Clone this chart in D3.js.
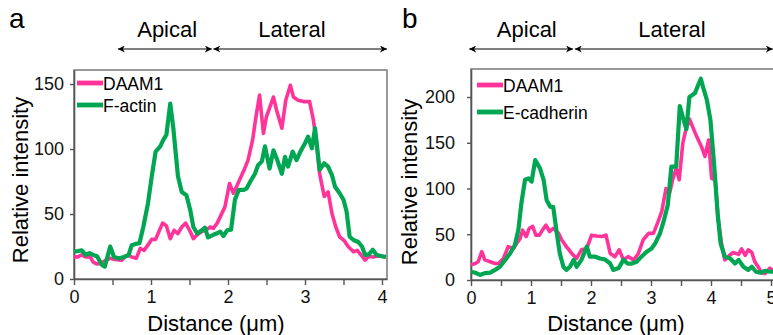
<!DOCTYPE html>
<html>
<head>
<meta charset="utf-8">
<script src="https://cdn.jsdelivr.net/npm/d3@7"></script>
<style>
  html, body { margin: 0; padding: 0; background: #fff; }
  svg { display: block; font-family: "Liberation Sans", Arial, sans-serif; }
</style>
</head>
<body>
<svg id="chart" width="773" height="335"></svg>
<script>
// ---------- DATA ----------
// Panel a: [distance (µm), relative intensity]
const daam1A = [[0,17],[0.05,17],[0.10,18.5],[0.15,17],[0.21,17],[0.25,13],[0.30,11.5],[0.34,12],[0.42,14.5],[0.47,16],[0.53,15],[0.62,14.5],[0.66,17],[0.71,18.5],[0.75,17],[0.81,16],[0.86,23.5],[0.91,22],[0.97,27],[1.01,30.5],[1.06,30.5],[1.11,37.5],[1.15,43],[1.20,41],[1.25,31],[1.30,37.5],[1.35,35],[1.40,40],[1.45,43],[1.51,36.5],[1.55,31],[1.60,34],[1.66,36.5],[1.71,37.5],[1.77,40],[1.81,39],[1.86,43],[1.92,50.5],[1.96,55.5],[2.02,73.5],[2.07,66],[2.11,71],[2.16,77.5],[2.21,84],[2.26,91.5],[2.32,107],[2.36,123.5],[2.41,141.5],[2.46,112],[2.50,125],[2.59,140],[2.63,130],[2.70,116],[2.75,137.5],[2.81,149],[2.85,140],[2.91,137.5],[2.98,136.5],[3.06,136.5],[3.11,122],[3.15,104.5],[3.19,81],[3.25,63.5],[3.30,67],[3.35,50.5],[3.40,40],[3.45,32.5],[3.51,29.5],[3.56,25],[3.63,21],[3.68,22],[3.74,17.5],[3.78,14.5],[3.83,17.5],[3.88,17],[3.93,17.5],[4.00,17.5],[4.05,17]];
const factinA = [[0,21],[0.10,22],[0.15,18.5],[0.20,20],[0.25,18.5],[0.30,17.5],[0.36,11],[0.40,9.5],[0.47,25],[0.52,17],[0.58,16],[0.62,16.5],[0.65,17],[0.71,18.5],[0.75,26],[0.80,27],[0.85,27.5],[0.90,40],[0.96,58],[1.01,79],[1.06,98],[1.12,102],[1.16,107],[1.20,111],[1.25,135],[1.29,116],[1.35,79],[1.40,67],[1.46,64.5],[1.51,53],[1.55,40],[1.60,35],[1.66,37.5],[1.70,39.5],[1.74,32],[1.81,34],[1.85,35],[1.90,36.5],[1.94,33],[1.99,37.5],[2.04,38],[2.09,61],[2.14,68.5],[2.20,68.5],[2.24,69.5],[2.29,75],[2.35,81],[2.39,87.5],[2.44,90.5],[2.48,102],[2.54,85],[2.59,99],[2.64,91.5],[2.70,81],[2.74,94],[2.78,86.5],[2.84,98],[2.89,91.5],[2.94,98],[3.00,104.5],[3.04,109.5],[3.09,100.5],[3.13,116],[3.19,84],[3.25,89],[3.30,86.5],[3.35,80],[3.39,71],[3.45,66],[3.50,61],[3.54,52],[3.58,32.5],[3.63,30],[3.69,28.5],[3.74,25],[3.78,18.5],[3.83,19],[3.88,22.5],[3.93,18.5],[4.00,17.5],[4.05,17]];

// Panel b
const daam1B = [[0,16.5],[0.07,18],[0.12,20],[0.18,31],[0.23,22],[0.32,20],[0.40,18],[0.46,18],[0.54,23.5],[0.62,36.5],[0.71,34.5],[0.76,40],[0.82,45.5],[0.86,54.5],[0.92,47.5],[0.97,56.5],[1.03,58.5],[1.08,49],[1.14,49],[1.19,54.5],[1.25,60],[1.31,53],[1.37,56.5],[1.46,51],[1.51,44],[1.59,36.5],[1.68,29],[1.76,23.5],[1.84,33],[1.93,34.5],[2.01,49],[2.09,48],[2.18,47.5],[2.25,49],[2.32,29],[2.40,25.5],[2.47,33],[2.54,22],[2.62,25.5],[2.71,22],[2.79,29],[2.87,44],[2.96,51],[3.04,51],[3.12,64],[3.18,75],[3.25,100],[3.31,95],[3.36,109.5],[3.42,122],[3.47,109.5],[3.53,149.5],[3.58,164],[3.64,176],[3.69,168],[3.76,157],[3.84,146],[3.90,135],[3.96,153],[4.01,111],[4.07,109.5],[4.12,66],[4.18,38],[4.23,22],[4.31,27],[4.37,30],[4.46,28],[4.51,34],[4.57,27],[4.62,33],[4.68,30],[4.73,20],[4.79,14],[4.84,8],[4.90,7],[4.98,13],[5.04,10]];
const ecadB = [[0,9],[0.07,8],[0.15,5.5],[0.23,7.5],[0.32,8],[0.40,11],[0.48,14.5],[0.57,22],[0.65,29],[0.73,38],[0.79,55],[0.84,84],[0.90,109.5],[0.96,111],[1.01,107.5],[1.07,131],[1.15,122],[1.21,109.5],[1.26,87.5],[1.32,80],[1.37,80],[1.43,51],[1.48,29],[1.54,14.5],[1.59,11],[1.65,14.5],[1.71,22],[1.76,14.5],[1.84,22],[1.93,36.5],[1.98,25.5],[2.07,25.5],[2.15,23.5],[2.23,22.5],[2.32,18],[2.37,11],[2.46,13],[2.54,22],[2.61,18],[2.68,18],[2.76,20],[2.84,25.5],[2.93,31],[3.01,34.5],[3.07,40],[3.15,51],[3.21,64],[3.28,82],[3.34,124],[3.42,124],[3.48,190],[3.53,178],[3.59,165],[3.64,200],[3.73,204],[3.78,212],[3.83,220],[3.88,208],[3.93,197],[3.99,175],[4.05,128],[4.11,73],[4.16,40],[4.23,25.5],[4.32,23.5],[4.40,18],[4.46,22],[4.54,14.5],[4.62,11],[4.68,14.5],[4.75,9],[4.82,8],[4.90,10],[5.0,9],[5.05,9]];

const xTicksA = [0,0.5,1,1.5,2,2.5,3,3.5,4];
const xTicksB = [0,0.5,1,1.5,2,2.5,3,3.5,4,4.5,5];
const yTicksA = [0,50,100,150];
const yTicksB = [0,50,100,150,200];
const regionsA = [{name:"Apical", x0:0.57, x1:1.79, lx:1.21}, {name:"Lateral", x0:1.81, x1:4.065, lx:2.83}];
const regionsB = [{name:"Apical", x0:-0.03, x1:1.70, lx:0.93}, {name:"Lateral", x0:1.73, x1:5.03, lx:3.35}];

// ---------- DRAW ----------
const svg = d3.select("#chart");
const PINK = "#ff3399", GREEN = "#00a651";

const defs = svg.append("defs");
defs.append("marker").attr("id","ah").attr("viewBox","0 0 10 10").attr("refX",10).attr("refY",5)
  .attr("markerWidth",7).attr("markerHeight",7).attr("markerUnits","userSpaceOnUse")
  .attr("orient","auto-start-reverse")
  .append("path").attr("d","M0,0 L10,5 L0,10 L3,5 Z").attr("fill","#000");

function panel(cfg) {
  const x = d3.scaleLinear().domain(cfg.xDomain).range(cfg.xRange);
  const y = d3.scaleLinear().domain(cfg.yDomain).range(cfg.yRange);
  const g = svg.append("g");

  g.append("text").attr("x", cfg.letterX).attr("y", 28).attr("font-size", 28).text(cfg.letter);

  cfg.regions.forEach(r => {
    g.append("line").attr("x1", x(r.x0)).attr("x2", x(r.x1)).attr("y1", 49).attr("y2", 49)
      .attr("stroke", "#000").attr("stroke-width", 1.1)
      .attr("marker-start", "url(#ah)").attr("marker-end", "url(#ah)");
    g.append("text").attr("x", x(r.lx)).attr("y", 37).attr("text-anchor","middle")
      .attr("font-size", 22).text(r.name);
  });

  g.append("rect").attr("x", cfg.xRange[0]).attr("y", cfg.yRange[1])
    .attr("width", cfg.xRange[1]-cfg.xRange[0]).attr("height", cfg.yRange[0]-cfg.yRange[1])
    .attr("fill","none").attr("stroke","#808080").attr("stroke-width",1.6);

  const ax = g.append("g").attr("transform", `translate(0,${cfg.yRange[0]})`)
    .call(d3.axisBottom(x).tickValues(cfg.xTicks).tickSize(6).tickSizeOuter(0).tickPadding(5)
      .tickFormat(d => Number.isInteger(d) ? d : ""));
  const ay = g.append("g").attr("transform", `translate(${cfg.xRange[0]},0)`)
    .call(d3.axisLeft(y).tickValues(cfg.yTicks).tickSize(4).tickSizeOuter(0).tickPadding(cfg.yPad));
  [ax, ay].forEach(a => {
    a.select(".domain").attr("stroke","#555").attr("stroke-width",1.6);
    a.selectAll(".tick line").attr("stroke","#555").attr("stroke-width",1.4);
    a.selectAll(".tick text").attr("font-size", 18).attr("fill","#111")
      .attr("font-family", '"Liberation Sans", Arial, sans-serif');
  });

  const line = d3.line().x(d => x(d[0])).y(d => y(d[1]));
  g.append("path").datum(cfg.s1).attr("d", line).attr("fill","none")
    .attr("stroke", PINK).attr("stroke-width", 3.6).attr("stroke-linejoin","round");
  g.append("path").datum(cfg.s2).attr("d", line).attr("fill","none")
    .attr("stroke", GREEN).attr("stroke-width", 4.2).attr("stroke-linejoin","round");

  const lx = cfg.legendX;
  [[cfg.n1, PINK, cfg.legendY[0]], [cfg.n2, GREEN, cfg.legendY[1]]].forEach(([n, c, ly]) => {
    g.append("line").attr("x1", lx).attr("x2", lx + 26).attr("y1", ly).attr("y2", ly)
      .attr("stroke", c).attr("stroke-width", 4.8);
    g.append("text").attr("x", lx + 26).attr("y", ly + 6.5).attr("font-size", 17.5).text(n);
  });

  g.append("text").attr("transform", `translate(${cfg.yTitleX},${cfg.yTitleY}) rotate(-90)`)
    .attr("text-anchor","middle").attr("font-size", 22).text("Relative intensity");
  g.append("text").attr("x", cfg.xTitleX).attr("y", 331).attr("text-anchor","middle")
    .attr("font-size", 22).text("Distance (μm)");
}

panel({
  letter: "a", letterX: 9,
  xDomain: [0, 4.065], xRange: [74, 387],
  yDomain: [0, 160.8], yRange: [279, 70],
  xTicks: xTicksA, yTicks: yTicksA, yPad: 6,
  regions: regionsA,
  s1: daam1A, s2: factinA, n1: "DAAM1", n2: "F-actin",
  legendX: 77, legendY: [83, 105],
  yTitleX: 28, yTitleY: 180, xTitleX: 216
});
panel({
  letter: "b", letterX: 402,
  xDomain: [0, 5.05], xRange: [471, 774],
  yDomain: [0, 230.6], yRange: [280, 69],
  xTicks: xTicksB, yTicks: yTicksB, yPad: 12,
  regions: regionsB,
  s1: daam1B, s2: ecadB, n1: "DAAM1", n2: "E-cadherin",
  legendX: 477, legendY: [85, 112],
  yTitleX: 417, yTitleY: 182, xTitleX: 616
});
</script>
</body>
</html>
